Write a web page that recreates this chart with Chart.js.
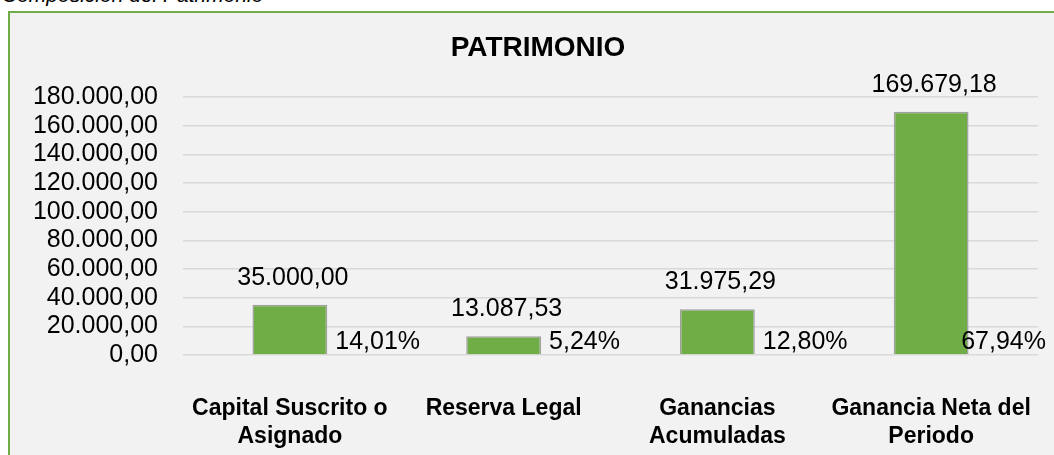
<!DOCTYPE html>
<html>
<head>
<meta charset="utf-8">
<script src="https://cdn.jsdelivr.net/npm/chart.js@4"></script>
<style>
    body { margin: 0; background: #fff; width: 1054px; height: 455px; overflow: hidden; position: relative; font-family: "Liberation Sans", Arial, sans-serif; }
    .caption { position: absolute; left: 2px; top: -17px; font-size: 21px; font-style: italic; color: #000; white-space: nowrap; }
    .box { position: absolute; left: 8px; top: 11px; width: 1100px; height: 500px; background: #F2F2F2; border-left: 2px solid #70AD47; border-top: 2px solid #70AD47; }
    .wrap { position: absolute; left: 0; top: 0; width: 1054px; height: 455px; }
</style>
</head>
<body>
<div class="caption">Composición del Patrimonio</div>
<div class="box"></div>
<div class="wrap"><canvas id="patrimonioChart" width="1054" height="455"></canvas></div>
<script>
// data
const chartTitle = "PATRIMONIO";
const categories = [
    ["Capital Suscrito o", "Asignado"],
    ["Reserva Legal"],
    ["Ganancias", "Acumuladas"],
    ["Ganancia Neta del", "Periodo"]
];
const values = [35000.00, 13087.53, 31975.29, 169679.18];
const percentLabels = ["14,01%", "5,24%", "12,80%", "67,94%"];
const yTicks = [0, 20000, 40000, 60000, 80000, 100000, 120000, 140000, 160000, 180000];

// 12345.6 -> "12.345,60"
function fmtEs(v) {
    const parts = v.toFixed(2).split(".");
    parts[0] = parts[0].replace(/\B(?=(\d{3})+(?!\d))/g, ".");
    return parts[0] + "," + parts[1];
}

const FONT = "'Liberation Sans', Arial, sans-serif";

// title sits off-centre in the original, so it is drawn here
const titlePlugin = {
    id: "offTitle",
    afterDraw(chart) {
        const ctx = chart.ctx;
        ctx.save();
        ctx.fillStyle = "#000";
        ctx.font = "bold 28px " + FONT;
        ctx.textAlign = "center";
        ctx.textBaseline = "middle";
        ctx.fillText(chartTitle, 538, 48);
        ctx.restore();
    }
};

// value above the bar, share to the right of its base
const barLabels = {
    id: "barLabels",
    afterDatasetsDraw(chart) {
        const ctx = chart.ctx;
        const meta = chart.getDatasetMeta(0);
        ctx.save();
        ctx.fillStyle = "#000";
        ctx.font = "25px " + FONT;
        ctx.textBaseline = "middle";
        meta.data.forEach((bar, i) => {
            const base = chart.scales.y.getPixelForValue(0);
            ctx.textAlign = "center";
            ctx.fillText(fmtEs(values[i]), bar.x + 3, bar.y - 27);
            ctx.textAlign = "left";
            const w = ctx.measureText(percentLabels[i]).width;
            let x = bar.x + bar.width / 2 + 8;
            if (x + w > 1046) x = 1046 - w;
            ctx.fillText(percentLabels[i], x, base - 13);
        });
        ctx.restore();
    }
};

const ctxPat = document.getElementById("patrimonioChart").getContext("2d");
new Chart(ctxPat, {
    type: "bar",
    data: {
        labels: categories,
        datasets: [{
            data: values,
            backgroundColor: (c) => {
                const bar = c.chart.getDatasetMeta(0).data[c.dataIndex];
                if (!bar || !bar.width) return "#70AD47";
                const g = c.chart.ctx.createLinearGradient(bar.x - bar.width / 2, 0, bar.x + bar.width / 2, 0);
                g.addColorStop(0, "#5F9A3A");
                g.addColorStop(0.12, "#6EAA45");
                g.addColorStop(0.88, "#6EAA45");
                g.addColorStop(1, "#5F9A3A");
                return g;
            },
            borderColor: "#A0A0A0",
            borderWidth: 1.5,
            barPercentage: 0.35,
            categoryPercentage: 1
        }]
    },
    options: {
        responsive: false,
        animation: false,
        layout: { padding: { left: 0, right: 16, top: 97, bottom: 0 } },
        plugins: {
            legend: { display: false },
            tooltip: { enabled: false },
            title: { display: false }
        },
        scales: {
            y: {
                min: 0,
                max: 180000,
                afterFit: (s) => { s.width = 183; },
                afterBuildTicks: (s) => { s.ticks = yTicks.map(v => ({ value: v })); },
                border: { display: false },
                grid: { color: "#D9D9D9", lineWidth: 1.5, drawTicks: false },
                ticks: {
                    autoSkip: false,
                    padding: 25,
                    color: "#000",
                    font: { family: FONT, size: 25, lineHeight: 1 },
                    callback: (v) => fmtEs(v)
                }
            },
            x: {
                afterFit: (s) => { s.height = 100; s.paddingLeft = 0; s.paddingRight = 0; },
                border: { display: false },
                grid: { display: false, drawTicks: false },
                ticks: {
                    autoSkip: false,
                    maxRotation: 0,
                    padding: 40,
                    color: "#000",
                    font: { family: FONT, size: 23, weight: "bold", lineHeight: 1.22 }
                }
            }
        }
    },
    plugins: [barLabels, titlePlugin]
});
</script>
</body>
</html>
